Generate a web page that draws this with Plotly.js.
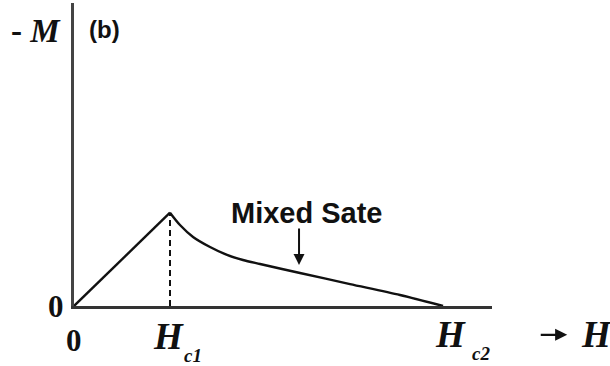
<!DOCTYPE html>
<html>
<head>
<meta charset="utf-8">
<script src="https://cdn.plot.ly/plotly-3.0.1.min.js"></script>
<style>
  html, body { margin: 0; padding: 0; background: #fff; }
  #chart { width: 610px; height: 366px; }
</style>
</head>
<body>
<div id="chart"></div>
<script>
// Magnetisation of a type-II superconductor, -M versus applied field H
// (field in units of Hc1, magnetisation in units of its value at Hc1).
const riseH = [0, 1];
const riseM = [0, 1];
const decayH = [1, 1.104, 1.24, 1.417, 1.594, 1.76, 1.938, 2.354, 2.875, 3.396, 3.844];
const decayM = [1, 0.868, 0.74, 0.632, 0.547, 0.493, 0.45, 0.354, 0.235, 0.118, 0];
const Hc1 = 1;
const Hc2 = 3.844;
const Mpeak = 1;
const tickLabels = ['0', 'c1', 'c2'];

const xMax = 4.354, yMax = 3.248;
const serif = 'Liberation Serif, Times New Roman, serif';
const sans = 'Liberation Sans, Arial, sans-serif';
const ink = '#111';

const traces = [
  { // Meissner state: linear rise up to Hc1
    x: riseH, y: riseM, mode: 'lines', type: 'scatter',
    line: { color: ink, width: 2.4 }, hoverinfo: 'skip'
  },
  { // mixed state: decay from Hc1 to Hc2
    x: decayH, y: decayM, mode: 'lines', type: 'scatter',
    line: { color: ink, width: 2.4, shape: 'spline', smoothing: 0.8 }, hoverinfo: 'skip'
  },
  { // dashed drop line at Hc1
    x: [Hc1, Hc1], y: [0, Mpeak], mode: 'lines', type: 'scatter',
    line: { color: ink, width: 2, dash: '6px,4px' }, hoverinfo: 'skip'
  }
];

const ann = [
  // axis labels
  { text: '<b>- <i>M</i></b>', xref: 'paper', yref: 'paper', x: -0.155, y: 0.906,
    xanchor: 'left', yanchor: 'middle', showarrow: false,
    font: { family: serif, size: 33, color: ink } },
  { text: '<b>(b)</b>', xref: 'paper', yref: 'paper', x: 0.03, y: 0.914,
    xanchor: 'left', yanchor: 'middle', showarrow: false,
    font: { family: sans, size: 24, color: ink } },
  { text: '<b>0</b>', x: 0, y: 0, xref: 'x', yref: 'y', xanchor: 'right', yanchor: 'middle',
    xshift: -8, showarrow: false,
    font: { family: serif, size: 31, color: ink } },
  // field ticks
  { text: '<b>' + tickLabels[0] + '</b>', x: 0, y: 0, xref: 'x', yref: 'y',
    yshift: -34, showarrow: false, font: { family: serif, size: 31, color: ink } },
  { text: '<b><i>H</i></b>', x: Hc1, y: 0, xref: 'x', yref: 'y', xshift: -2,
    yshift: -30, showarrow: false, font: { family: serif, size: 37, color: ink } },
  { text: '<b><i>' + tickLabels[1] + '</i></b>', x: Hc1, y: 0, xref: 'x', yref: 'y', xshift: 23,
    yshift: -49, showarrow: false, font: { family: serif, size: 19, color: ink } },
  { text: '<b><i>H</i></b>', x: Hc2, y: 0, xref: 'x', yref: 'y', xshift: 7,
    yshift: -28, showarrow: false, font: { family: serif, size: 37, color: ink } },
  { text: '<b><i>' + tickLabels[2] + '</i></b>', x: Hc2, y: 0, xref: 'x', yref: 'y', xshift: 38,
    yshift: -47, showarrow: false, font: { family: serif, size: 19, color: ink } },
  // "-> H" direction label
  { text: '', xref: 'paper', yref: 'paper', x: 1.18, y: -0.095, ax: -28, ay: 0,
    showarrow: true, arrowhead: 2, arrowsize: 1.1, arrowwidth: 2.2, arrowcolor: ink },
  { text: '<b><i>H</i></b>', xref: 'paper', yref: 'paper', x: 1.25, y: -0.095,
    xanchor: 'center', yanchor: 'middle', showarrow: false,
    font: { family: serif, size: 37, color: ink } },
  // mixed-state callout
  { text: '<b>Mixed Sate</b>', x: 2.43, y: 0.997, xref: 'x', yref: 'y',
    xanchor: 'center', yanchor: 'middle', showarrow: false,
    font: { family: sans, size: 29, color: ink } },
  { text: '', x: 2.344, y: 0.44, xref: 'x', yref: 'y', ax: 0, ay: -38,
    showarrow: true, arrowhead: 2, arrowsize: 1.1, arrowwidth: 2, arrowcolor: ink }
];

const layout = {
  width: 610, height: 366,
  margin: { l: 74, r: 118, t: 3, b: 60 },
  paper_bgcolor: '#fff', plot_bgcolor: '#fff',
  showlegend: false,
  xaxis: { range: [0, xMax], showline: true, linecolor: '#333', linewidth: 2.6,
           showgrid: false, zeroline: false, showticklabels: false, ticks: '', fixedrange: true },
  yaxis: { range: [0, yMax], showline: true, linecolor: '#444', linewidth: 2.6,
           showgrid: false, zeroline: false, showticklabels: false, ticks: '', fixedrange: true },
  annotations: ann
};

Plotly.newPlot('chart', traces, layout, { displayModeBar: false, staticPlot: true });
</script>
</body>
</html>
